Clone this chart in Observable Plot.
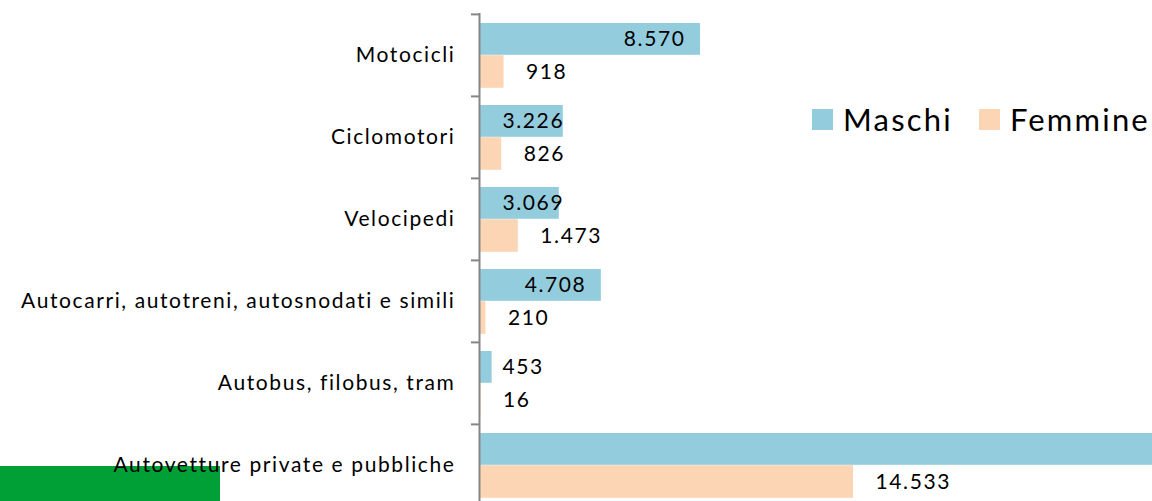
<!DOCTYPE html>
<html>
<head>
<meta charset="utf-8">
<script src="https://cdn.jsdelivr.net/npm/d3@7"></script>
<script src="https://cdn.jsdelivr.net/npm/@observablehq/plot@0.6"></script>
<style>
  body { margin: 0; background: #fff; }
  #wrap { position: relative; width: 1152px; height: 501px; overflow: hidden; font-family: Lato, "Open Sans", sans-serif; }
  #green { position: absolute; left: 0; top: 466px; width: 220px; height: 35px; background: #00A037; }
  #chart { position: absolute; left: 0; top: 0; }
  .ch text { letter-spacing: 1.6px; }
  #legend { position: absolute; left: 812px; top: 100px; display: flex; align-items: center; font-size: 31px; letter-spacing: 2.2px; color: #000; }
  #legend .sw { width: 21px; height: 21px; display: inline-block; margin-right: 10px; }
  #legend .item { display: flex; align-items: center; margin-right: 26px; }
</style>
</head>
<body>
<div id="wrap">
  <div id="green"></div>
  <div id="chart"></div>
  <div id="legend"></div>
</div>
<script>
const categories = [
  "Motocicli",
  "Ciclomotori",
  "Velocipedi",
  "Autocarri, autotreni, autosnodati e simili",
  "Autobus, filobus, tram",
  "Autovetture private e pubbliche"
];
const maschi = [8570, 3226, 3069, 4708, 453, 31500];
const femmine = [918, 826, 1473, 210, 16, 14533];
const seriesNames = ["Maschi", "Femmine"];
const seriesColors = ["#93CDDD", "#FCD5B5"];
const xMax = 26180;

const fmt = v => v.toLocaleString("it-IT");
const dataM = categories.map((c, i) => ({cat: c, v: maschi[i]}));
const dataF = categories.map((c, i) => ({cat: c, v: femmine[i]}));

const fontFam = "Lato, 'Open Sans', sans-serif";

const chart = Plot.plot({
  width: 1152,
  height: 501,
  marginLeft: 480,
  marginRight: 0,
  marginTop: 13,
  marginBottom: 0,
  className: "ch",
  style: {background: "transparent", fontFamily: fontFam, color: "#000"},
  x: {domain: [0, xMax], axis: null},
  y: {domain: categories, range: [13, 506], padding: 0, label: null},
  marks: [
    Plot.barX(dataM, {x: "v", y: "cat", fill: seriesColors[0], insetTop: 9, insetBottom: 41.2, clip: true}),
    Plot.barX(dataF, {x: "v", y: "cat", fill: seriesColors[1], insetTop: 41.2, insetBottom: 8.2, clip: true}),
    Plot.ruleX([0], {stroke: "#868686", strokeWidth: 2, dx: -1}),
    Plot.ruleY(categories, {y: d => d, dy: -41.1, dx: -9, insetRight: 664, stroke: "#868686", strokeWidth: 2}),
    Plot.axisY({tickSize: 0, tickPadding: 25, fontSize: 21, fill: "#000", fontFamily: fontFam}),
    Plot.text(dataM.filter(d => d.v >= 4000 && d.v <= xMax), {x: "v", y: "cat", text: d => fmt(d.v), textAnchor: "end", dx: -15, dy: -16.4, fontSize: 21, fill: "#000"}),
    Plot.text(dataM.filter(d => d.v < 4000), {x: 0, y: "cat", text: d => fmt(d.v), textAnchor: "start", dx: 22, dy: -16.4, fontSize: 21, fill: "#000"}),
    Plot.text(dataF, {x: "v", y: "cat", text: d => fmt(d.v), textAnchor: "start", dx: 22, dy: 16.4, fontSize: 21, fill: "#000"})
  ]
});
document.getElementById("chart").appendChild(chart);

const legend = document.getElementById("legend");
seriesNames.forEach((n, i) => {
  const item = document.createElement("span");
  item.className = "item";
  const sw = document.createElement("span");
  sw.className = "sw";
  sw.style.background = seriesColors[i];
  item.appendChild(sw);
  item.appendChild(document.createTextNode(n));
  legend.appendChild(item);
});
</script>
</body>
</html>
